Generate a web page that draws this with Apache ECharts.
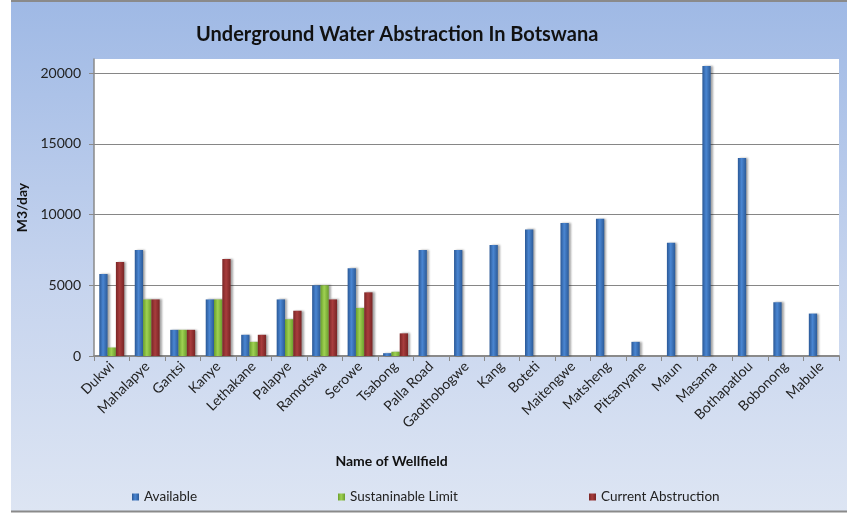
<!DOCTYPE html>
<html>
<head>
<meta charset="utf-8">
<script src="https://cdn.jsdelivr.net/npm/echarts@6/dist/echarts.min.js"></script>
<style>
html,body{margin:0;padding:0;background:#fff;}
#chart{width:847px;height:513px;}
</style>
</head>
<body>
<div id="chart"></div>
<script>
const categories = ["Dukwi","Mahalapye","Gantsi","Kanye","Lethakane","Palapye","Ramotswa","Serowe","Tsabong","Palla Road","Gaothobogwe","Kang","Boteti","Maitengwe","Matsheng","Pitsanyane","Maun","Masama","Bothapatlou","Bobonong","Mabule"];
const available = [5800,7500,1850,4000,1500,4000,5000,6200,200,7500,7500,7850,8950,9400,9700,1000,8000,20500,14000,3800,3000];
const sustainable = [600,4000,1850,4000,1000,2600,5000,3400,300,null,null,null,null,null,null,null,null,null,null,null,null];
const current = [6650,4000,1850,6850,1500,3200,4000,4500,1600,null,null,null,null,null,null,null,null,null,null,null,null];
const seriesNames = ["Available","Sustaninable Limit","Current Abstruction"];
const yTicks = [0,5000,10000,15000,20000];

const FONT = 'Lato, "Open Sans", sans-serif';
function grad(a,b,c){
  return {type:'linear',x:0,y:0,x2:1,y2:0,colorStops:[{offset:0,color:a},{offset:0.45,color:b},{offset:1,color:c}]};
}
const barStyle = (a,b,c)=>({color:grad(a,b,c),shadowColor:'rgba(0,0,0,0.35)',shadowBlur:2,shadowOffsetX:2,shadowOffsetY:0});
const legendLefts = [127,333,584];

const chart = echarts.init(document.getElementById('chart'));
chart.setOption({
  animation:false,
  graphic:[
    {type:'rect',z:-10,shape:{x:11,y:1,width:836,height:511},
     style:{fill:{type:'linear',x:0,y:0,x2:0,y2:1,colorStops:[{offset:0,color:'#9fb9e5'},{offset:0.55,color:'#c6d4ee'},{offset:1,color:'#dde5f3'}]}}},
    {type:'line',z:-9,shape:{x1:11,y1:1,x2:847,y2:1},style:{stroke:'#8a8a8a',lineWidth:2}},
    {type:'line',z:-9,shape:{x1:11,y1:511.5,x2:847,y2:511.5},style:{stroke:'#8a8a8a',lineWidth:2}}
  ],
  title:{
    text:'Underground Water Abstraction In Botswana',
    left:191, top:20,
    textStyle:{fontFamily:FONT,fontSize:20,fontWeight:'bold',color:'#111'}
  },
  legend:seriesNames.map((n,i)=>({
    data:[n],
    left:legendLefts[i], top:485,
    itemWidth:7, itemHeight:7,
    icon:'rect',
    textStyle:{fontFamily:FONT,fontSize:13.5,color:'#222'}
  })),
  grid:{left:94,right:8,top:59,bottom:157,show:true,backgroundColor:'#ffffff',borderWidth:0},
  xAxis:{
    type:'category',
    data:categories,
    name:'Name of Wellfield',
    nameLocation:'middle',
    nameGap:98,
    nameTextStyle:{fontFamily:FONT,fontSize:14,fontWeight:'bold',color:'#111',padding:[0,150,0,0]},
    axisLine:{lineStyle:{color:'#8a8a8a',width:2}},
    axisTick:{show:true,length:5,lineStyle:{color:'#8a8a8a',width:1}},
    axisLabel:{rotate:45,margin:8,fontFamily:FONT,fontSize:14,color:'#222',interval:0}
  },
  yAxis:{
    type:'value',
    min:0,max:21000,interval:5000,
    name:'M3/day',
    nameLocation:'middle',
    nameGap:65,
    nameTextStyle:{fontFamily:FONT,fontSize:14,fontWeight:'bold',color:'#111'},
    axisLine:{show:true,lineStyle:{color:'#8a8a8a',width:1.5}},
    axisTick:{show:true,length:5,lineStyle:{color:'#8a8a8a'}},
    axisLabel:{showMaxLabel:false,margin:13,fontFamily:FONT,fontSize:14,color:'#222',
      formatter:v=>yTicks.includes(v)?String(v):''},
    splitLine:{show:true,showMaxLine:false,showMinLine:false,lineStyle:{color:'#868686',width:1.2}}
  },
  series:[
    {name:seriesNames[0],type:'bar',data:available,barWidth:8.3,barGap:'0%',
     itemStyle:barStyle('#2a5896','#4a86d2','#2b5a98')},
    {name:seriesNames[1],type:'bar',data:sustainable,barWidth:8.3,barGap:'0%',
     itemStyle:barStyle('#6a9f2c','#9fd152','#6b9e2d')},
    {name:seriesNames[2],type:'bar',data:current,barWidth:8.3,barGap:'0%',
     itemStyle:barStyle('#7a2525','#a83d3d','#782424')}
  ]
});
</script>
</body>
</html>
